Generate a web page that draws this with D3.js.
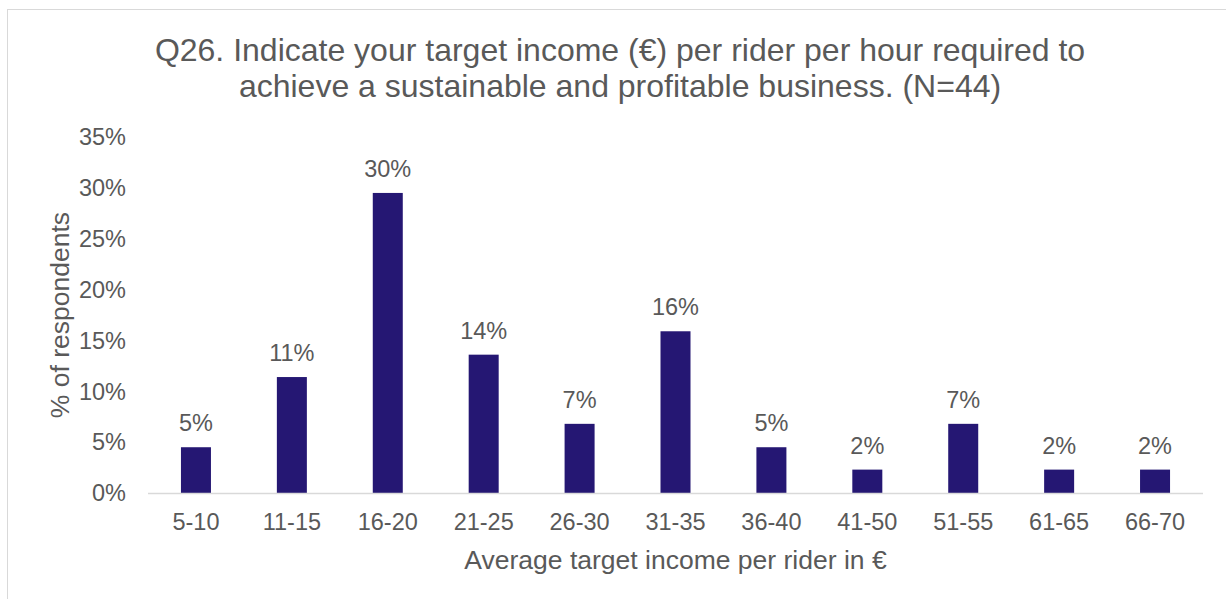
<!DOCTYPE html>
<html>
<head>
<meta charset="utf-8">
<script src="https://cdn.jsdelivr.net/npm/d3@7"></script>
<style>
  body { margin: 0; background: #fff; }
  text { font-family: "Liberation Sans", Arial, sans-serif; fill: #595959; }
</style>
</head>
<body>
<div id="chart"></div>
<script>
// Q26 target income per rider per hour (N=44)
var categories = ["5-10", "11-15", "16-20", "21-25", "26-30", "31-35", "36-40", "41-50", "51-55", "61-65", "66-70"]
var values = [0.045, 0.114, 0.295, 0.136, 0.068, 0.159, 0.045, 0.023, 0.068, 0.023, 0.023]
var yTicks = [0, 0.05, 0.10, 0.15, 0.20, 0.25, 0.30, 0.35]

var width = 1226
var height = 599
var margin = {top: 137, right: 23, bottom: 106, left: 148}

var svg = d3.select("#chart")
  .append("svg")
    .attr("width", width)
    .attr("height", height)

// chart border
svg.append("rect")
  .attr("x", 7.5).attr("y", 9.5)
  .attr("width", 1240).attr("height", 620)
  .attr("fill", "none")
  .attr("stroke", "#d9d9d9")

var x = d3.scaleBand()
  .domain(categories)
  .range([margin.left, width - margin.right])

var y = d3.scaleLinear()
  .domain([0, 0.35])
  .range([height - margin.bottom, margin.top])

var barW = 30

// title
var title = svg.append("text")
  .attr("text-anchor", "middle")
  .style("font-size", "32px")
title.append("tspan").attr("x", 620).attr("y", 61)
  .text("Q26. Indicate your target income (€) per rider per hour required to")
title.append("tspan").attr("x", 620).attr("y", 97)
  .text("achieve a sustainable and profitable business. (N=44)")

// y axis tick labels (no line)
svg.selectAll(".ytick")
  .data(yTicks)
  .enter()
  .append("text")
    .attr("x", 126)
    .attr("y", function(d) { return y(d) })
    .attr("dy", "0.35em")
    .attr("text-anchor", "end")
    .style("font-size", "23.5px")
    .text(d3.format(".0%"))

// bars
svg.selectAll(".bar")
  .data(values)
  .enter()
  .append("rect")
    .attr("x", function(d, i) { return x(categories[i]) + x.bandwidth() / 2 - barW / 2 })
    .attr("y", function(d) { return y(d) })
    .attr("width", barW)
    .attr("height", function(d) { return y(0) - y(d) })
    .attr("fill", "#251773")

// x axis line
svg.append("line")
  .attr("x1", margin.left).attr("x2", width - margin.right)
  .attr("y1", y(0) + 0.5).attr("y2", y(0) + 0.5)
  .attr("stroke", "#d9d9d9")
  .attr("stroke-width", 1.5)

// data labels
svg.selectAll(".lbl")
  .data(values)
  .enter()
  .append("text")
    .attr("x", function(d, i) { return x(categories[i]) + x.bandwidth() / 2 })
    .attr("y", function(d) { return y(d) - 16 })
    .attr("text-anchor", "middle")
    .style("font-size", "23.5px")
    .text(d3.format(".0%"))

// category labels
svg.selectAll(".xtick")
  .data(categories)
  .enter()
  .append("text")
    .attr("x", function(d) { return x(d) + x.bandwidth() / 2 })
    .attr("y", 530)
    .attr("text-anchor", "middle")
    .style("font-size", "23.5px")
    .text(function(d) { return d })

// axis titles
svg.append("text")
  .attr("x", (margin.left + width - margin.right) / 2)
  .attr("y", 569)
  .attr("text-anchor", "middle")
  .style("font-size", "26.5px")
  .text("Average target income per rider in €")

svg.append("text")
  .attr("transform", "translate(69," + (y(0.175)) + ") rotate(-90)")
  .attr("text-anchor", "middle")
  .style("font-size", "26.5px")
  .text("% of respondents")
</script>
</body>
</html>
